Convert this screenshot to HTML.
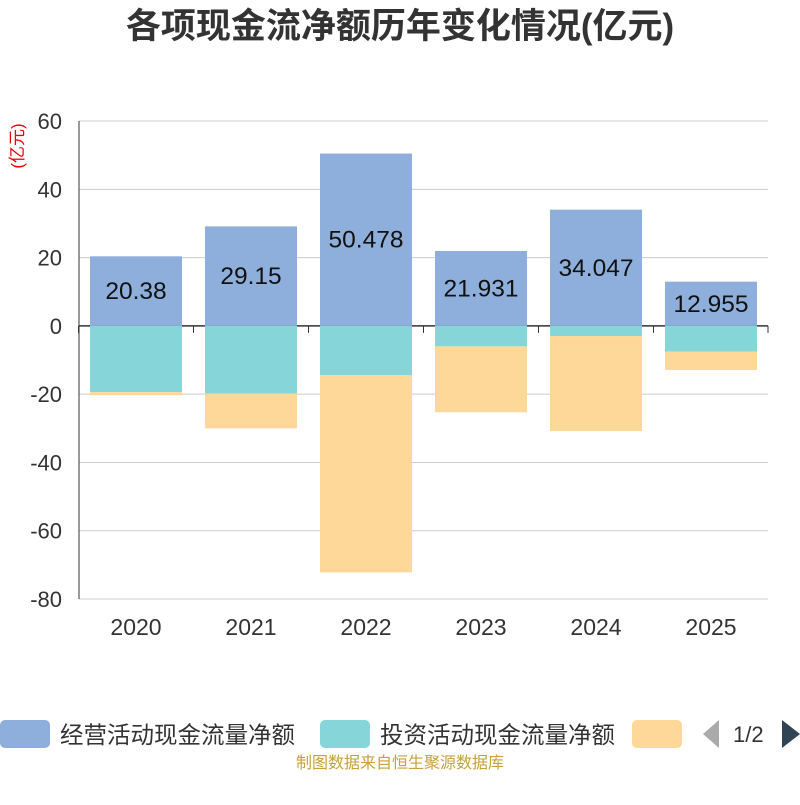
<!DOCTYPE html>
<html><head><meta charset="utf-8"><style>
body{margin:0;background:#fff;font-family:"Liberation Sans","Noto Sans CJK SC",sans-serif}
svg text{font-family:"Liberation Sans","Noto Sans CJK SC",sans-serif}
</style></head><body>
<svg id="chart" width="800" height="800" xmlns="http://www.w3.org/2000/svg">
<text x="400" y="38" text-anchor="middle" font-size="35" font-weight="bold" fill="#333">各项现金流净额历年变化情况(亿元)</text>
<text transform="translate(23,146) rotate(-90)" text-anchor="middle" font-size="17" fill="#e00">(亿元)</text>
<g id="grid"></g><g id="bars"></g><g id="axes"></g>
<g>
<rect x="0" y="720" width="50" height="28" rx="5" fill="#8eaedb"/>
<text x="60" y="743" font-size="23.5" fill="#333">经营活动现金流量净额</text>
<rect x="320" y="720" width="50" height="28" rx="5" fill="#86d5d8"/>
<text x="380" y="743" font-size="23.5" fill="#333">投资活动现金流量净额</text>
<rect x="632" y="720" width="50" height="28" rx="5" fill="#fed898"/>
<polygon points="719,720 719,748 703,734" fill="#aaa"/>
<text x="733" y="742" font-size="22" fill="#333">1/2</text>
<polygon points="782,720 782,748 800,734" fill="#2f4554"/>
</g>
<text x="400" y="768" text-anchor="middle" font-size="16" fill="#c9a03a">制图数据来自恒生聚源数据库</text>
</svg>
<script>
const categories=["2020","2021","2022","2023","2024","2025"];
const operating=[20.38,29.15,50.478,21.931,34.047,12.955];
const investing=[-19.4,-19.8,-14.4,-6,-3,-7.5];
const financing=[-0.9,-10.2,-57.8,-19.3,-27.8,-5.4];
const yTicks=[60,40,20,0,-20,-40,-60,-80];
const NS="http://www.w3.org/2000/svg";
const y=v=>325.9-v*3.414;
const x=i=>90+i*115;
const bw=92;
function mk(tag,attrs,parent){const e=document.createElementNS(NS,tag);for(const k in attrs)e.setAttribute(k,attrs[k]);parent.appendChild(e);return e;}
const grid=document.getElementById('grid'),bars=document.getElementById('bars'),axes=document.getElementById('axes');
yTicks.forEach(t=>{
 const l=mk('line',{x1:79,x2:768,y1:y(t),y2:y(t),stroke:t===0?'#333':'#ccc','stroke-width':t===0?1.5:1},grid);
 
 
 const tx=mk('text',{x:62,y:y(t)+8,'text-anchor':'end','font-size':22,fill:'#333'},axes);
 tx.textContent=t;
 
 
});
const ya=mk('line',{x1:79,x2:79,y1:y(60),y2:y(-80),stroke:'#333'},axes);


categories.forEach((c,i)=>{
 const cx=x(i)+bw/2;
 const tk=mk('line',{x1:x(i)-11.5,x2:x(i)-11.5,y1:y(0),y2:y(0)+7,stroke:'#333'},axes);
 
 
 const t=mk('text',{x:cx,y:635,'text-anchor':'middle','font-size':23,fill:'#333'},axes);
 t.textContent=c;
 
 
 const o=operating[i];
 const r1=mk('rect',{x:x(i),y:y(o),width:bw,height:y(0)-y(o),fill:'#8eaedb'},bars);
 
 
 const inv=investing[i];
 const r2=mk('rect',{x:x(i),y:y(0),width:bw,height:y(inv)-y(0),fill:'#86d5d8'},bars);
 
 
 const f=financing[i];
 const r3=mk('rect',{x:x(i),y:y(inv),width:bw,height:y(inv+f)-y(inv),fill:'#fed898'},bars);
 
 
 const lb=mk('text',{x:cx,y:(y(o)+y(0))/2+8,'text-anchor':'middle','font-size':24.5,fill:'#111'},bars);
 lb.textContent=o;
 
 
});
const le=mk('line',{x1:768,x2:768,y1:y(0),y2:y(0)+7,stroke:'#333'},axes);


</script>
</body></html>
